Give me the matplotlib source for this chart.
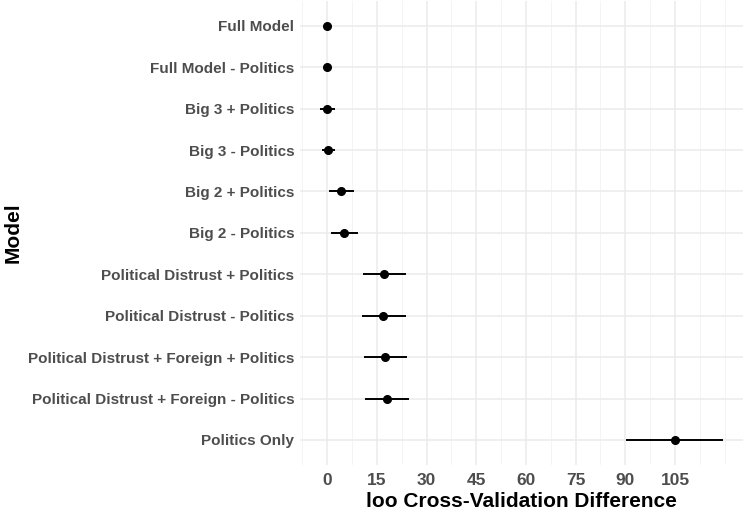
import numpy as np
import matplotlib.pyplot as plt
from matplotlib.ticker import MultipleLocator

plt.rcParams.update({
    'font.family': ['Liberation Sans', 'DejaVu Sans'],
    'font.weight': 'bold',
})

models = [
    'Full Model',
    'Full Model - Politics',
    'Big 3 + Politics',
    'Big 3 - Politics',
    'Big 2 + Politics',
    'Big 2 - Politics',
    'Political Distrust + Politics',
    'Political Distrust - Politics',
    'Political Distrust + Foreign + Politics',
    'Political Distrust + Foreign - Politics',
    'Politics Only',
]
elpd_diff = [0.0, 0.1, 0.1, 0.4, 4.2, 5.1, 17.2, 17.0, 17.5, 18.0, 105.0]
lower = [0.0, 0.0, -2.1, -1.6, 0.5, 1.2, 10.7, 10.4, 11.0, 11.3, 90.2]
upper = [0.0, 0.2, 2.4, 2.4, 8.0, 9.2, 23.7, 23.7, 24.1, 24.7, 119.5]
x_ticks = [0, 15, 30, 45, 60, 75, 90, 105]

fig = plt.figure(figsize=(7.5, 5.13), dpi=100)
ax = fig.add_axes([0.4, 0.094, 0.591, 0.904])

ypos = np.arange(len(models))[::-1]
ax.hlines(ypos, lower, upper, color='black', linewidth=1.4, zorder=3)
ax.plot(elpd_diff, ypos, 'o', color='black', markersize=5.5, zorder=4)

ax.set_yticks(ypos)
ax.set_yticklabels(models)
ax.set_xticks(x_ticks)
ax.xaxis.set_minor_locator(MultipleLocator(7.5))
ax.set_ylim(-0.6, len(models) - 0.4)
ax.margins(x=0.05)

ax.grid(True, which='major', color='#EBEBEB', linewidth=1.1, zorder=0)
ax.grid(True, which='minor', axis='x', color='#F2F2F2', linewidth=0.6, zorder=0)
ax.set_axisbelow(True)
for s in ax.spines.values():
    s.set_visible(False)
ax.tick_params(which='both', length=0)
ax.tick_params(axis='y', labelsize=11, labelcolor='#4D4D4D', pad=4)
ax.tick_params(axis='x', labelsize=12.5, labelcolor='#4D4D4D', pad=6)

ax.set_xlabel('loo Cross-Validation Difference', fontsize=15, fontweight='bold', labelpad=2.5)
ax.set_ylabel('Model', fontsize=15, fontweight='bold')
ax.yaxis.set_label_coords(-0.625, 0.5)

fig.savefig('out.png', dpi=100)
